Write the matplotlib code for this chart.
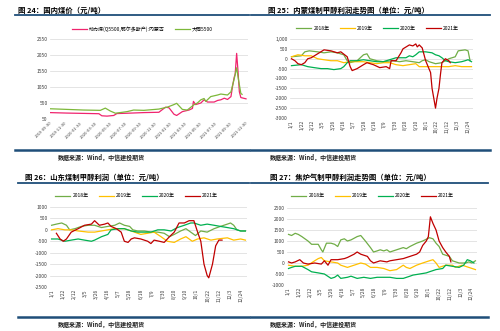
import datetime as dt
import numpy as np
import matplotlib.pyplot as plt
from matplotlib.lines import Line2D

plt.rcParams['font.family'] = ['Noto Sans CJK SC', 'DejaVu Sans']

# ---- 图24 国内煤价 ----
pink_dates = ["2019-09-30", "2019-12-07", "2020-02-13", "2020-04-15", "2020-04-27", "2020-05-18",
              "2020-06-14", "2020-06-27", "2020-08-07", "2020-10-14", "2020-12-14", "2021-01-10",
              "2021-01-24", "2021-02-13", "2021-02-24", "2021-03-19", "2021-04-15", "2021-04-29",
              "2021-05-03", "2021-05-12", "2021-06-02", "2021-06-15", "2021-06-29", "2021-07-26",
              "2021-08-09", "2021-08-22", "2021-09-05", "2021-09-18", "2021-10-02", "2021-10-09",
              "2021-10-15", "2021-10-19", "2021-10-25", "2021-10-30", "2021-11-05", "2021-11-11",
              "2021-12-02"]
pink_vals = [250, 235, 225, 215, 150, 140, 160, 220, 230, 250, 260, 420, 400, 200, 160, 280, 330, 380,
             600, 500, 550, 650, 580, 580, 630, 650, 700, 660, 750, 1100, 1350, 1450, 2100, 1600, 900,
             720, 680]
green_dates = ["2019-09-30", "2020-02-13", "2020-04-21", "2020-05-11", "2020-05-31", "2020-06-21",
               "2020-08-07", "2020-09-03", "2020-10-14", "2020-12-14", "2021-01-17", "2021-02-13",
               "2021-02-24", "2021-03-19", "2021-04-08", "2021-05-06", "2021-05-19", "2021-06-02",
               "2021-06-15", "2021-06-22", "2021-07-12", "2021-08-09", "2021-08-22", "2021-09-18",
               "2021-10-02", "2021-10-15", "2021-10-25", "2021-11-01", "2021-11-11", "2021-11-16"]
green_vals = [370, 330, 320, 390, 300, 230, 280, 330, 320, 360, 420, 500, 540, 350, 330, 500, 550, 650,
              690, 600, 750, 800, 830, 800, 900, 1300, 1650, 1300, 850, 820]
coal_ticks = ["2019-09-30", "2019-11-30", "2020-01-30", "2020-03-30", "2020-05-30", "2020-07-30",
              "2020-09-30", "2020-11-30", "2021-01-30", "2021-03-30", "2021-05-30", "2021-07-30",
              "2021-09-30", "2021-11-30"]
coal_yticks = [50, 550, 1050, 1550, 2050, 2550]

# ---- 图25 内蒙煤制甲醇利润 ----
nm18_d = [0, 20, 27, 36, 53, 66, 80, 93, 106, 113, 119, 133, 146, 153, 159, 173, 186, 206, 219, 232, 246,
          259, 265, 272, 279, 292, 305, 319, 332, 338, 352, 358, 362]
nm18_v = [100, 150, 350, 400, 350, 300, 350, 300, 200, -100, -200, -100, 200, 250, 0, -100, -150, -100,
          -150, -100, -150, -200, -100, -50, -150, -250, -200, 0, 100, 400, 450, 400, -100]
nm19_d = [0, 13, 27, 40, 53, 66, 80, 93, 106, 119, 146, 159, 173, 186, 199, 212, 226, 239, 252, 259, 272,
          292, 319, 332, 345, 365]
nm19_v = [100, 200, 150, 150, 0, -50, -100, -100, -200, -150, -150, -200, -250, -200, -200, -300, -350,
          -300, -250, -400, -400, -400, -400, -350, -400, -400]
nm20_d = [0, 20, 33, 46, 60, 73, 86, 100, 106, 113, 119, 133, 146, 159, 173, 186, 199, 212, 232, 239, 246,
          252, 259, 272, 285, 292, 299, 305, 312, 319, 332, 345, 352, 358, 365]
nm20_v = [-350, -300, -400, -450, -500, -500, -550, -500, -400, -200, -100, -100, -50, -100, -150, -150,
          -50, 50, 50, 150, 100, 200, 350, 350, 300, 200, 150, 50, -100, -150, -200, -150, -100, -50, -150]
nm21_d = [0, 7, 13, 20, 27, 33, 40, 53, 66, 80, 93, 100, 113, 119, 123, 133, 146, 153, 166, 179, 192, 199,
          202, 212, 222, 226, 239, 246, 252, 255, 259, 265, 272, 282, 285, 292, 295, 299, 302, 305, 312,
          319, 322]
nm21_v = [0, -100, -250, -300, -200, 0, 50, 250, 450, 400, 300, 350, 100, -400, -600, -500, -300, -200,
          -300, -450, -400, -500, -100, -100, 300, 500, 700, 650, 750, 600, 700, 550, -100, -700, -1500,
          -2500, -2000, -1500, -800, -200, 0, -100, -200]

# ---- 图26 山东煤制甲醇利润 ----
sd18_d = [0, 9, 19, 28, 34, 44, 56, 69, 81, 94, 106, 119, 128, 137, 147, 153, 162, 175, 187, 200, 212,
          222, 231, 243, 253, 262, 271, 281, 293, 306, 318, 331, 337, 343, 349, 356, 365]
sd18_v = [200, 250, 300, 200, 0, 50, 150, 200, 200, 100, 150, 200, 300, 200, 150, 0, -50, -50, -100,
          -100, -150, -300, -200, -50, 50, -100, -250, -50, -100, 50, 150, 250, 300, 200, 0, -50, -50]
sd19_d = [0, 12, 25, 37, 50, 69, 81, 94, 106, 119, 137, 150, 162, 168, 181, 193, 206, 218, 231, 243, 253,
          265, 275, 287, 300, 312, 331, 343, 356, 365]
sd19_v = [0, 50, 0, 0, -50, -100, -100, -50, 0, 50, 50, -50, -150, -200, -150, -100, -300, -500, -550,
          -400, -300, -500, -400, -350, -450, -400, -350, -450, -400, -450]
sd20_d = [0, 12, 25, 37, 50, 62, 75, 81, 94, 106, 112, 125, 137, 150, 162, 175, 187, 200, 212, 225, 237,
          250, 262, 268, 281, 293, 306, 318, 331, 343, 356, 365]
sd20_v = [-400, -400, -500, -450, -400, -450, -500, -450, -300, -200, 0, 50, 50, -50, -100, -100, -100,
          0, 0, -50, 100, 200, 300, 300, 200, 250, 200, 150, 100, 50, -50, -50]
sd21_d = [9, 16, 22, 28, 37, 50, 62, 75, 81, 90, 100, 106, 112, 122, 131, 137, 144, 150, 156, 168, 181,
          187, 193, 203, 212, 222, 231, 240, 250, 259, 268, 275, 281, 287, 293, 296, 303, 309, 315, 321]
sd21_v = [-150, -400, -500, -400, -100, 50, 200, 250, 400, 200, 250, 300, 150, 50, -100, -500, -550,
          -400, -350, -400, -500, -600, -450, -500, -550, -300, -100, 300, 300, 400, 400, -100, -500,
          -1500, -2000, -2100, -1500, -700, -450, -450]

# ---- 图27 焦炉气制甲醇利润 ----
jl18_d = [0, 6, 13, 19, 26, 38, 45, 58, 64, 67, 74, 83, 90, 96, 102, 109, 115, 122, 134, 141, 150, 160,
          166, 173, 179, 186, 192, 198, 211, 224, 230, 237, 250, 256, 262, 275, 282, 288, 294, 301, 314,
          320, 333, 346, 352, 358, 365]
jl18_v = [1300, 1250, 1350, 1300, 1200, 1000, 850, 850, 600, 500, 900, 900, 850, 750, 1050, 1100, 1000,
          1050, 1200, 1250, 1000, 700, 500, 550, 600, 550, 600, 500, 600, 700, 650, 750, 900, 950, 1000,
          1150, 1100, 900, 750, 400, 300, 100, 0, 0, 50, 0, 100]
jl19_d = [0, 13, 26, 38, 51, 58, 64, 70, 83, 96, 102, 115, 128, 141, 150, 160, 173, 186, 198, 211, 224,
          230, 237, 250, 262, 275, 282, 288, 294, 307, 320, 326, 339, 352, 365]
jl19_v = [-100, -150, -150, -100, 100, 200, 250, 100, 50, 0, -100, -200, -100, 0, -50, -200, -200, -250,
          -350, -300, -100, -200, -250, -100, 0, 100, 150, 0, -200, -100, -100, -200, -100, -200, -300]
jl20_d = [0, 6, 13, 26, 38, 45, 58, 70, 83, 90, 96, 102, 115, 122, 134, 147, 160, 173, 186, 198, 211,
          224, 237, 243, 256, 269, 275, 288, 301, 307, 320, 333, 342, 349, 355, 362]
jl20_v = [-250, -200, -150, -150, -300, -400, -450, -500, -700, -650, -550, -700, -650, -600, -700, -650,
          -700, -650, -650, -650, -700, -700, -600, -550, -500, -450, -400, -300, -250, -100, -150, -200,
          -100, 150, 100, 0]
jl21_d = [0, 6, 13, 22, 29, 38, 51, 64, 70, 77, 83, 96, 109, 115, 128, 134, 141, 154, 160, 166, 179, 192,
          198, 211, 224, 237, 250, 256, 262, 269, 273, 277, 282, 288, 294, 301, 307, 314, 317]
jl21_v = [50, 0, 50, 150, 0, -50, 0, -50, 100, -100, 150, 150, 200, 250, 400, 500, 400, 300, 100, 0, 100,
          50, 100, 150, 200, 300, 400, 500, 800, 1000, 1200, 2100, 1800, 1500, 1000, 700, 500, 300, 50]

years = ["2018年", "2019年", "2020年", "2021年"]
year_colors = ["#70AD47", "#FFC000", "#00B050", "#C00000"]
day_ticks = list(range(0, 365, 21))
tick_days = [dt.date(2021, 1, 1) + dt.timedelta(days=d) for d in day_ticks]
day_labels = [f"{t.month}/{t.day}" for t in tick_days]

BLUE = "#1F4E79"
GRID = "#D9D9D9"
TICK_FS = 3.6

fig = plt.figure(figsize=(5, 3.31), dpi=100)


def to_dt(strings):
    return [dt.datetime.strptime(s, "%Y-%m-%d") for s in strings]


def frame(x0, x1, y_title, y_top, y_bot, title, y_src, x_title, x_src):
    # title, blue rules and source note, positions in pixels
    H = 331.0
    fig.text(x_title / 500, 1 - y_title / H, title, fontsize=5.3, fontweight='bold', va='center')
    fig.add_artist(Line2D([x0 / 500, x1 / 500], [1 - y_top / H] * 2, color=BLUE, lw=1.3))
    fig.add_artist(Line2D([x0 / 500, x1 / 500], [1 - y_bot / H] * 2, color=BLUE, lw=1.8))
    fig.text(x_src / 500, 1 - y_src / H, "数据来源：Wind，中信建投期货", fontsize=4.3,
             fontweight='bold', va='center', color="#222222")


def style_ax(ax):
    for s in ax.spines.values():
        s.set_visible(False)
    ax.grid(axis='y', color=GRID, lw=0.5)
    ax.set_axisbelow(True)
    ax.tick_params(length=0, labelsize=TICK_FS, pad=1.5, colors="#404040")


def profit_panel(rect, series, yticks, ylabels, ylim, leg_xy):
    ax = fig.add_axes(rect)
    for (d, v), name, col in zip(series, years, year_colors):
        ax.plot(d, v, color=col, lw=0.9, label=name)
    ax.set_xlim(-3, 368)
    ax.set_ylim(*ylim)
    ax.set_yticks(yticks)
    ax.set_yticklabels(ylabels)
    ax.set_xticks(day_ticks)
    ax.set_xticklabels(day_labels, rotation=90)
    style_ax(ax)
    ax.legend(loc='center', bbox_to_anchor=leg_xy, bbox_transform=fig.transFigure, ncol=4,
              frameon=False, fontsize=3.6, handlelength=3, columnspacing=2.0, handletextpad=0.4)
    return ax


# panel 1
frame(15, 249, 10, 15, 150, "图 24：国内煤价（元/吨）", 157, 18, 58)
ax1 = fig.add_axes([0.1, 0.6405, 0.396, 0.2417])
ax1.plot(to_dt(pink_dates), pink_vals, color="#F0246E", lw=0.9,
         label="动力煤(Q5500,鄂尔多斯产):内蒙古")
ax1.plot(to_dt(green_dates), green_vals, color="#7DB83A", lw=0.9, label="大同5500")
tick_dates = to_dt(coal_ticks)
ax1.set_xticks(tick_dates)
ax1.set_xticklabels(coal_ticks, rotation=45, ha='right', rotation_mode='anchor')
ax1.set_xlim(tick_dates[0], dt.datetime(2021, 12, 10))
ax1.set_ylim(50, 2550)
ax1.set_yticks(coal_yticks)
style_ax(ax1)
ax1.tick_params(axis='x', labelsize=3.0)
ax1.legend(loc='center', bbox_to_anchor=(0.285, 0.912), bbox_transform=fig.transFigure, ncol=2,
           frameon=False, fontsize=3.6, handlelength=3, columnspacing=2.0, handletextpad=0.4)

# panel 2
frame(251, 490, 10, 15, 150, "图 25：内蒙煤制甲醇利润走势图（单位：元/吨）", 157, 268, 270)
profit_panel([0.58, 0.6435, 0.366, 0.2387],
             [(nm18_d, nm18_v), (nm19_d, nm19_v), (nm20_d, nm20_v), (nm21_d, nm21_v)],
             list(range(1000, -3001, -500)),
             ["1,000", "500", "0", "-500", "-1000", "-1500", "-2000", "-2500", "-3000"],
             (-3000, 1000), (0.755, 0.915))

# panel 3
frame(18, 249, 177, 183, 317, "图 26：山东煤制甲醇利润（单位：元/吨）", 324, 25, 58)
profit_panel([0.1, 0.133, 0.394, 0.2417],
             [(sd18_d, sd18_v), (sd19_d, sd19_v), (sd20_d, sd20_v), (sd21_d, sd21_v)],
             list(range(1000, -2501, -500)),
             [str(v) for v in range(1000, -2501, -500)],
             (-2500, 1000), (0.273, 0.408))

# panel 4
frame(251, 488, 177, 183, 317, "图 27：焦炉气制甲醇利润走势图（单位：元/吨）", 324, 270, 270)
profit_panel([0.574, 0.139, 0.38, 0.2326],
             [(jl18_d, jl18_v), (jl19_d, jl19_v), (jl20_d, jl20_v), (jl21_d, jl21_v)],
             list(range(2500, -1001, -500)),
             [str(v) for v in range(2500, -1001, -500)],
             (-1000, 2500), (0.745, 0.408))

fig.savefig("out.png", dpi=100)
